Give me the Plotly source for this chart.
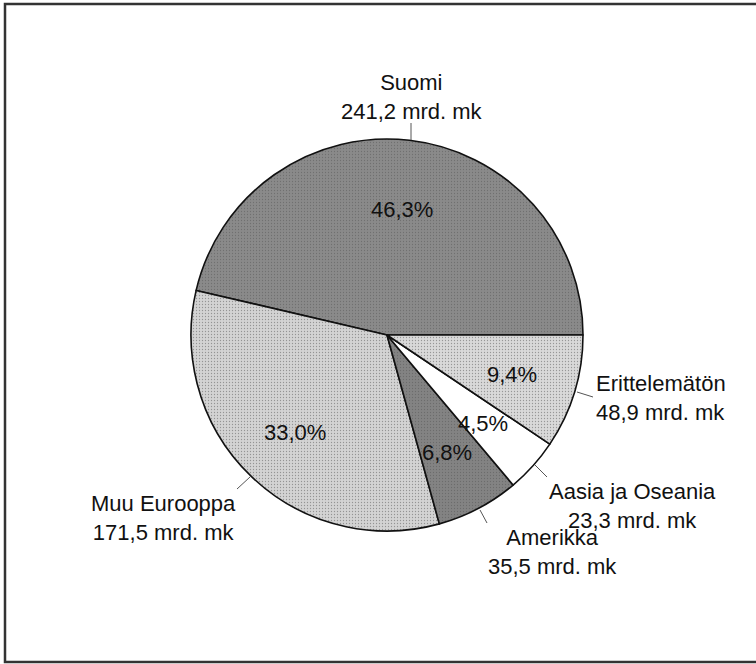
import plotly.graph_objects as go

W, H = 756, 664

regions = ["Suomi", "Muu Eurooppa", "Amerikka", "Aasia ja Oseania", "Erittelemätön"]
values = [241.2, 171.5, 35.5, 23.3, 48.9]
colors = ["#8a8a8a", "#d3d3d3", "#838383", "#ffffff", "#d9d9d9"]
patterns = [".", ".", ".", "", "."]

total = sum(values)
pct = [v / total * 100 for v in values]

def fi(x):
    return f"{x:.1f}".replace(".", ",")

# pixel helpers (layout only)
def px(x):
    return x / W

def py(y):
    return (H - y) / H

cx, cy, r = 387, 335, 196

fig = go.Figure()
fig.add_trace(go.Pie(
    labels=regions,
    values=values,
    sort=False,
    direction="counterclockwise",
    # first slice starts at 3 o'clock and runs counterclockwise
    rotation=90 - pct[0] * 3.6,
    marker=dict(colors=colors, line=dict(color="#111111", width=1.6),
                pattern=dict(shape=patterns, size=3, solidity=0.15, fgcolor="#555555", fillmode="overlay")),
    textinfo="none",
    hoverinfo="skip",
    showlegend=False,
    domain=dict(x=[px(cx - r), px(cx + r)], y=[py(cy + r), py(cy - r)]),
))

font = dict(family="Liberation Sans, Arial, sans-serif", size=22, color="#111111")

# inside percentage labels (pixel positions of label centres)
pct_pos = [(402, 209), (295, 432), (447, 452), (483, 424), (512, 375)]
for p, (x, y) in zip(pct, pct_pos):
    fig.add_annotation(x=px(x), y=py(y), xref="paper", yref="paper",
                       text=fi(p) + "%", showarrow=False, font=font,
                       xanchor="center", yanchor="middle")

# outside labels
out_pos = [(412, 97, "center"), (163, 518, "center"), (552, 552, "center"),
           (632, 506, "center"), (594, 398, "left")]
for name, v, (x, y, anc) in zip(regions, values, out_pos):
    fig.add_annotation(x=px(x), y=py(y), xref="paper", yref="paper",
                       text=f"{name}<br>{fi(v)} mrd. mk", showarrow=False, font=font,
                       xanchor=anc, yanchor="middle", align=anc)

# leader lines
leaders = [((411, 123), (411, 140)), ((237, 489), (250, 477)), ((480, 510), (487, 523)),
           ((535, 465), (547, 477)), ((577, 392), (593, 397))]
for (x0, y0), (x1, y1) in leaders:
    fig.add_shape(type="line", xref="paper", yref="paper",
                  x0=px(x0), y0=py(y0), x1=px(x1), y1=py(y1),
                  line=dict(color="#555555", width=1))

# frame
fig.add_shape(type="rect", xref="paper", yref="paper",
              x0=px(5), y0=py(662), x1=px(762), y1=py(4),
              line=dict(color="#333333", width=2.5))

fig.update_layout(
    width=W, height=H,
    margin=dict(l=0, r=0, t=0, b=0),
    paper_bgcolor="white",
    plot_bgcolor="white",
    separators=", ",
)

fig.write_html("out.html",
               config={"displayModeBar": False},
               post_script="document.body.style.margin='0';document.body.style.overflow='hidden';")
